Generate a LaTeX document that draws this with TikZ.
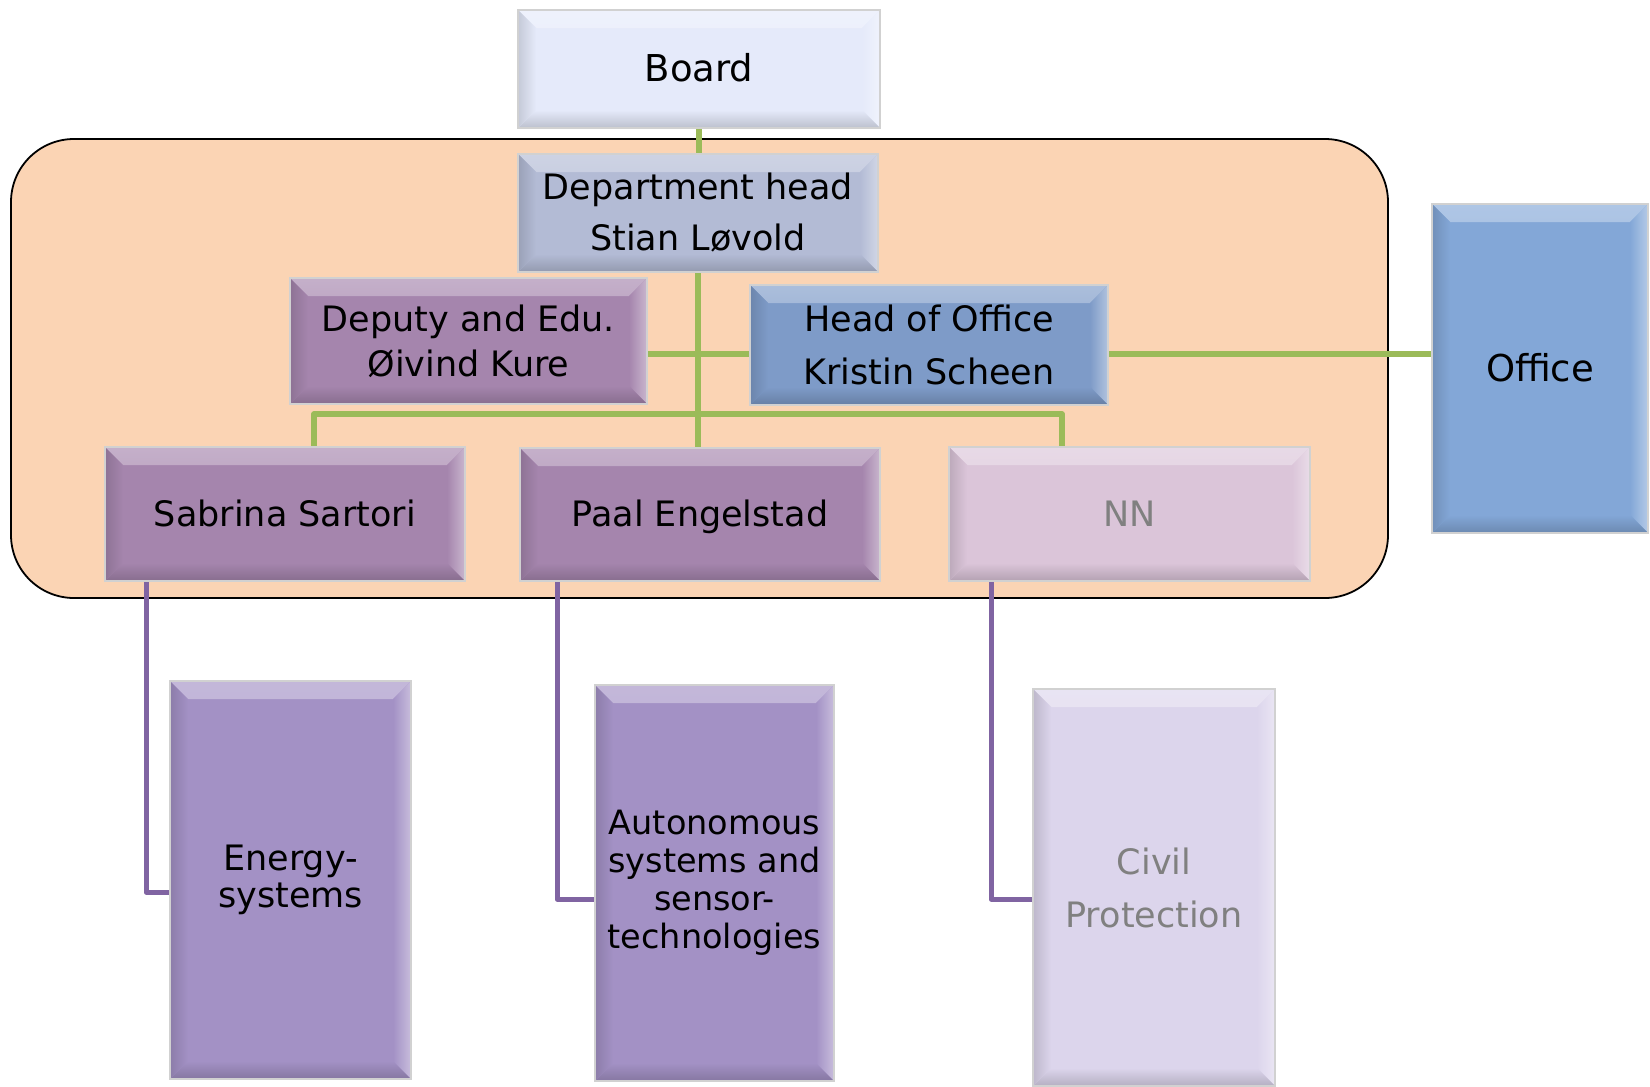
\documentclass[tikz,border=0pt]{standalone}
\usepackage{fontspec}
\setmainfont{DejaVu Sans}
\usetikzlibrary{calc}
\definecolor{cOrange}{HTML}{FBD4B4}
\definecolor{cBoard}{HTML}{E5EAFA}
\definecolor{cDept}{HTML}{B3BBD5}
\definecolor{cMauve}{HTML}{A585AD}
\definecolor{cHoO}{HTML}{7E9BC8}
\definecolor{cOffice}{HTML}{83A7D7}
\definecolor{cNN}{HTML}{DBC5D9}
\definecolor{cLilac}{HTML}{A391C5}
\definecolor{cCivil}{HTML}{DCD5EC}
\definecolor{cGreen}{HTML}{9BBB59}
\definecolor{cPurple}{HTML}{8064A2}
\definecolor{cGrayText}{HTML}{808080}
\tikzset{
  bev/.style={fill=#1, draw=black!18, line width=2.5pt, inner sep=0pt, align=center,
    path picture={
      \shade[top color=#1!65!white, bottom color=#1] (path picture bounding box.north west) -- (path picture bounding box.north east)
        -- ([shift={(-18pt,-18pt)}]path picture bounding box.north east)
        -- ([shift={(18pt,-18pt)}]path picture bounding box.north west) -- cycle;
      \shade[left color=#1, right color=#1!60!white] (path picture bounding box.north east) -- (path picture bounding box.south east)
        -- ([shift={(-18pt,18pt)}]path picture bounding box.south east)
        -- ([shift={(-18pt,-18pt)}]path picture bounding box.north east) -- cycle;
      \shade[top color=#1, bottom color=#1!82!black] (path picture bounding box.south west) -- (path picture bounding box.south east)
        -- ([shift={(-18pt,18pt)}]path picture bounding box.south east)
        -- ([shift={(18pt,18pt)}]path picture bounding box.south west) -- cycle;
      \shade[left color=#1!86!black, right color=#1] (path picture bounding box.north west) -- (path picture bounding box.south west)
        -- ([shift={(18pt,18pt)}]path picture bounding box.south west)
        -- ([shift={(18pt,-18pt)}]path picture bounding box.north west) -- cycle;
    }},
  greenline/.style={draw=cGreen, line width=5.5pt, line join=round},
  purpleline/.style={draw=cPurple, line width=5pt, line join=round},
  fnormal/.style={font=\fontsize{35}{51}\selectfont, text height=29pt, text depth=5pt},
  fbig/.style={font=\fontsize{37}{44}\selectfont, text height=30pt, text depth=5pt},
}
\begin{document}
\begin{tikzpicture}[x=1pt,y=-1pt]
\useasboundingbox (0,0) rectangle (1650,1087);
% unit area
\node[draw=black, line width=1.8pt, fill=cOrange, rounded corners=63pt,
      minimum width=1377pt, minimum height=459pt, inner sep=0pt] (unit) at (699.5,368.5) {};
% boxes
\node[bev=cBoard, minimum width=362pt, minimum height=118pt, fbig] (board) at (699,69) {Board};
\node[bev=cDept, minimum width=360pt, minimum height=118pt, font=\fontsize{35}{51}\selectfont] (dept) at (698,213) {Department head\\Stian Løvold};
\node[bev=cMauve, minimum width=357pt, minimum height=126pt, font=\fontsize{35}{45}\selectfont] (deputy) at (468.5,341) {Deputy and Edu.\\Øivind Kure};
\node[bev=cHoO, minimum width=358pt, minimum height=120pt, font=\fontsize{35}{53}\selectfont] (hoo) at (929,345) {Head of Office\\Kristin Scheen};
\node[bev=cOffice, minimum width=216pt, minimum height=329pt, fbig] (office) at (1540,368.5) {Office};
\node[bev=cMauve, minimum width=360pt, minimum height=134pt, fnormal] (sabrina) at (285,514) {Sabrina Sartori};
\node[bev=cMauve, minimum width=360pt, minimum height=133pt, fnormal] (paal) at (700,514.5) {Paal Engelstad};
\node[bev=cNN, minimum width=361pt, minimum height=134pt, fnormal, text=cGrayText] (nn) at (1129.5,514) {NN};
\node[bev=cLilac, minimum width=241pt, minimum height=398pt, font=\fontsize{35}{37}\selectfont] (energy) at (290.5,880) {Energy-\\systems};
\node[bev=cLilac, minimum width=239pt, minimum height=396pt, font=\fontsize{33.5}{38}\selectfont] (auto) at (714.5,883) {Autonomous\\systems and\\sensor-\\technologies};
\node[bev=cCivil, minimum width=242pt, minimum height=397pt, font=\fontsize{35}{53}\selectfont, text=cGrayText] (civil) at (1154,887.5) {Civil\\Protection};
% connector coordinates
\coordinate (hl) at (0,354);
\coordinate (busL) at (314,414);
\coordinate (busR) at (1062,414);
\coordinate (e1) at (146,892);
\coordinate (a1) at (557,899);
\coordinate (c1) at (991,899);
% green connectors
\draw[greenline] (board.south) -- (board.south |- dept.north);
\draw[greenline] (dept.south) -- (dept.south |- paal.north);
\draw[greenline] (sabrina.north -| busL) -- (busL) -- (busR) -- (busR |- nn.north);
\draw[greenline] (deputy.east |- hl) -- (hoo.west |- hl);
\draw[greenline] (hoo.east |- hl) -- (office.west |- hl);
% purple connectors
\draw[purpleline] (sabrina.south -| e1) -- (e1) -- (energy.west |- e1);
\draw[purpleline] (paal.south -| a1) -- (a1) -- (auto.west |- a1);
\draw[purpleline] (nn.south -| c1) -- (c1) -- (civil.west |- c1);
\end{tikzpicture}
\end{document}
